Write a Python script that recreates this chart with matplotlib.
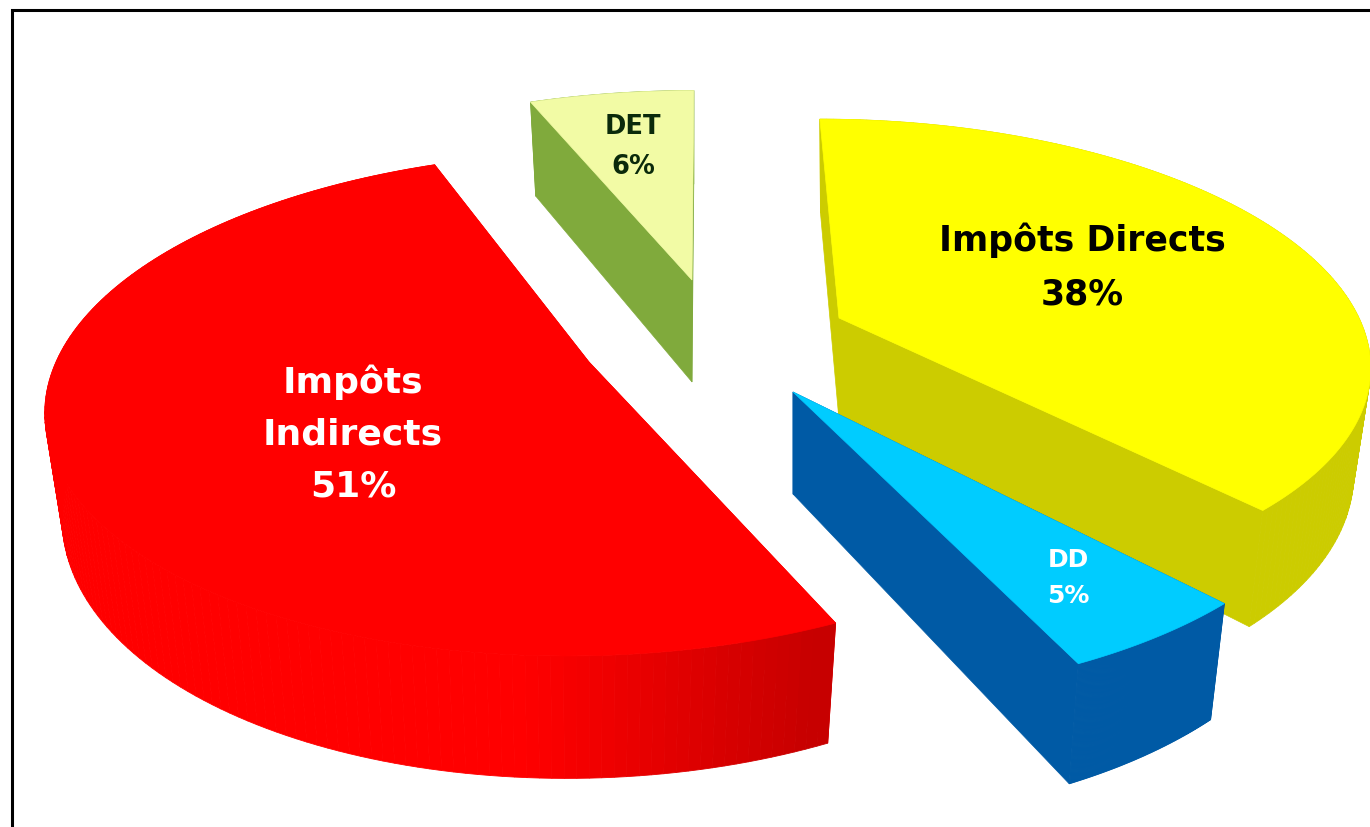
import numpy as np
from matplotlib import pyplot as plt
from matplotlib.colors import to_rgb
from matplotlib.patches import Polygon, Rectangle

labels = ['Impôts Directs', 'DD', 'Impôts\nIndirects', 'DET']
shares = [38, 5, 51, 6]

# exploded centre (px), radii of each slice, painter order
centers = [(839, 318), (793, 392), (589, 362), (692, 280)]
radii_x = [520, 538, 533, 512]
radii_y = [232, 255, 245, 221]
draw_order = [3, 2, 0, 1]
top_colors = ['#ffff00', '#00ccff', '#ff0000', '#f2fba5']
wall_colors = ['#cccc00', '#005aa5', '#ff0000', '#80aa3c']
text_colors = ['black', 'white', 'white', '#0b2a0b']
text_pos = [(1082, 267), (1068, 578), (353, 434), (633, 147)]
text_size = [25, 18, 26, 18.5]
text_spacing = [1.7, 1.59, 1.65, 1.67]

# view parameters
vp_x = 705
persp = 1 / 6
height = 102
shrink = 0.968


def project(c, r, deg, z=0.0):
    # ground point on a slice (polar, r is fraction of radius) to pixels
    th = np.radians(deg)
    u = r * np.cos(th)
    v = r * np.sin(th)
    w = 1 + persp * v
    x = vp_x + (c[0] - vp_x + c[2] * u) / w
    y = c[1] - c[3] * v / w
    if z > 0:
        # lower rim pulls in sideways, and at the back also towards the apex
        x = c[0] + shrink * (x - c[0])
        y = np.where(y < c[1], c[1] + shrink * (y - c[1]), y) + z * height / w
    return x, y


fig = plt.figure(figsize=(13.7, 8.27), dpi=100)
ax = fig.add_axes([0, 0, 1, 1])
ax.set_xlim(0, 1370)
ax.set_ylim(827, 0)
ax.axis('off')

ax.add_patch(Rectangle((12, 10), 1400, 900, fc='white', ec='black', lw=2.2))

# slice angles run clockwise from twelve o'clock
edges = 90 - np.cumsum([0] + shares) * 3.6

for i in draw_order:
    c = (centers[i][0], centers[i][1], radii_x[i], radii_y[i])
    th = np.linspace(edges[i], edges[i + 1], 160)
    tx, ty = project(c, 1.0, th)
    bx, by = project(c, 1.0, th, 1.0)
    ax0, ay0 = project(c, 0.0, 0.0)
    ax1, ay1 = project(c, 0.0, 0.0, 1.0)

    # flat side faces from the apex to both rims
    for k in (0, -1):
        face = [(ax0, ay0), (tx[k], ty[k]), (bx[k], by[k]), (ax1, ay1)]
        ax.add_patch(Polygon(face, fc=wall_colors[i], ec=wall_colors[i], lw=0.5))

    # outer wall, in narrow strips so red can shade towards its cut edge
    for k in range(len(th) - 1):
        col = np.array(to_rgb(wall_colors[i]))
        if labels[i].startswith('Impôts\n'):
            f = np.clip((tx[k] - 530) / 290, 0, 1)
            col = np.array([1 - 0.22 * f, 0, 0])
        strip = [(tx[k], ty[k]), (tx[k + 1], ty[k + 1]), (bx[k + 1], by[k + 1]), (bx[k], by[k])]
        ax.add_patch(Polygon(strip, fc=col, ec=col, lw=0.6))

    top = [(ax0, ay0)] + list(zip(tx, ty))
    ax.add_patch(Polygon(top, fc=top_colors[i], ec=top_colors[i], lw=0.5))

for i in range(len(labels)):
    ax.text(text_pos[i][0], text_pos[i][1], '{0}\n{1}%'.format(labels[i], shares[i]),
            color=text_colors[i], fontsize=text_size[i], fontweight='bold',
            family='DejaVu Sans', ha='center', va='center', linespacing=text_spacing[i])

fig.savefig('out.png', dpi=100)
